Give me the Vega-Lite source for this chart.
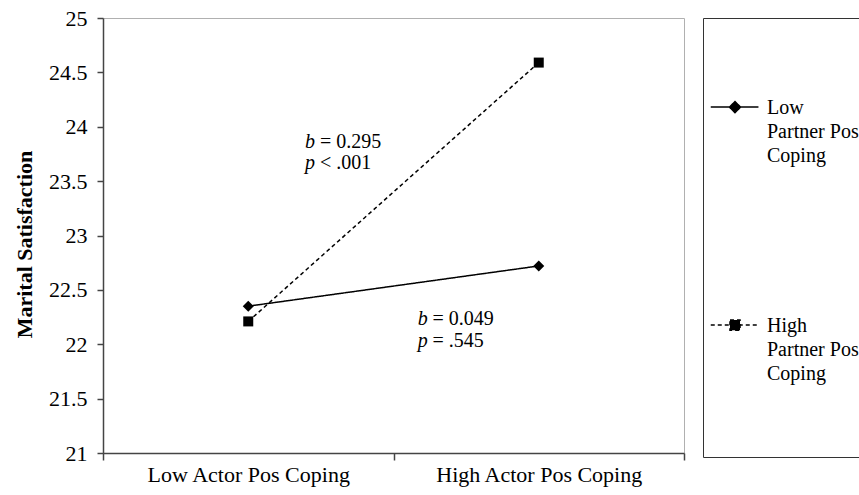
{
  "$schema": "https://vega.github.io/schema/vega-lite/v6.json",
  "width": 581,
  "height": 435,
  "autosize": {"type": "none"},
  "padding": {"left": 103, "top": 18, "right": 175, "bottom": 42},
  "background": "white",
  "config": {
    "view": {"stroke": "#b0b0b0", "strokeWidth": 1},
    "font": "Liberation Serif",
    "style": {"guide-label": {"lineHeight": 24}}
  },
  "layer": [
    {
      "data": {
        "values": [
          {"actor": "Low Actor Pos Coping", "partner": "Low", "sat": 22.35},
          {"actor": "High Actor Pos Coping", "partner": "Low", "sat": 22.72},
          {"actor": "Low Actor Pos Coping", "partner": "High", "sat": 22.21},
          {"actor": "High Actor Pos Coping", "partner": "High", "sat": 24.59}
        ]
      },
      "layer": [
        {
          "mark": {"type": "line", "color": "black", "strokeWidth": 1.5},
          "encoding": {
            "x": {
              "field": "actor", "type": "ordinal",
              "sort": ["Low Actor Pos Coping", "High Actor Pos Coping"],
              "scale": {"type": "band", "paddingInner": 0, "paddingOuter": 0},
              "title": null,
              "axis": {
                "tickBand": "extent", "tickSize": 7, "tickWidth": 1.5, "tickColor": "#444",
                "domainColor": "#444", "domainWidth": 1.5,
                "labelFontSize": 22, "labelColor": "black", "labelPadding": 4, "labelAngle": 0,
                "labelFont": "Liberation Serif", "labelLimit": 400, "grid": false
              }
            },
            "y": {
              "field": "sat", "type": "quantitative",
              "scale": {"domain": [21, 25], "zero": false, "nice": false},
              "axis": {
                "values": [21, 21.5, 22, 22.5, 23, 23.5, 24, 24.5, 25],
                "labelExpr": "'' + datum.value",
                "tickSize": 6, "tickWidth": 1.5, "tickColor": "#444",
                "domainColor": "#444", "domainWidth": 1.5,
                "labelFontSize": 22, "labelColor": "black", "labelPadding": 10,
                "labelFont": "Liberation Serif", "grid": false,
                "title": "Marital Satisfaction", "titleFontSize": 22, "titleFontWeight": "bold",
                "titleColor": "black", "titleFont": "Liberation Serif", "titlePadding": 12,
                "titleY": 226
              }
            },
            "strokeDash": {
              "field": "partner", "type": "nominal",
              "scale": {"domain": ["Low", "High"], "range": [[1, 0], [4, 3]]},
              "legend": {
                "orient": "right", "offset": 19, "padding": 7,
                "strokeColor": "#333",
                "title": " ", "titleOrient": "bottom", "titleFontSize": 4, "titlePadding": 62,
                "symbolType": {"expr": "datum.value == 'Low' ? 'M-1,0.134L-0.335,0.134M-0.662,0.057L-0.585,0.134L-0.662,0.211L-0.739,0.134Z' : 'M-1,0.134L-0.335,0.134M-0.732,0.064L-0.592,0.064L-0.592,0.204L-0.732,0.204Z'"},
                "symbolSize": 20592, "symbolStrokeWidth": 1.5,
                "symbolFillColor": "black", "symbolStrokeColor": "black", "symbolOpacity": 1,
                "labelFont": "Liberation Serif", "labelFontSize": 20, "labelColor": "black",
                "labelBaseline": "top", "labelOffset": -88, "labelLimit": 300,
                "rowPadding": 77,
                "labelExpr": "datum.label == 'Low' ? ['Low', 'Partner Pos', 'Coping'] : ['High', 'Partner Pos', 'Coping']"
              }
            }
          }
        },
        {
          "transform": [{"filter": "datum.partner == 'Low'"}],
          "mark": {"type": "point", "filled": true, "color": "black", "opacity": 1, "shape": "diamond", "size": 121},
          "encoding": {
            "x": {"field": "actor", "type": "ordinal", "sort": ["Low Actor Pos Coping", "High Actor Pos Coping"]},
            "y": {"field": "sat", "type": "quantitative"}
          }
        },
        {
          "transform": [{"filter": "datum.partner == 'High'"}],
          "mark": {"type": "point", "filled": true, "color": "black", "opacity": 1, "shape": "square", "size": 100},
          "encoding": {
            "x": {"field": "actor", "type": "ordinal", "sort": ["Low Actor Pos Coping", "High Actor Pos Coping"]},
            "y": {"field": "sat", "type": "quantitative"}
          }
        }
      ]
    },
    {
      "data": {"values": [
        {"actor": "Low Actor Pos Coping", "sat": 23.863, "t": "b"},
        {"actor": "Low Actor Pos Coping", "sat": 23.667, "t": "p"}
      ]},
      "mark": {"type": "text", "align": "left", "baseline": "middle", "dx": 56.75, "fontSize": 20, "fontStyle": "italic", "font": "Liberation Serif", "color": "black"},
      "encoding": {
        "x": {"field": "actor", "type": "ordinal", "sort": ["Low Actor Pos Coping", "High Actor Pos Coping"]},
        "y": {"field": "sat", "type": "quantitative"},
        "text": {"field": "t"}
      }
    },
    {
      "data": {"values": [
        {"actor": "Low Actor Pos Coping", "sat": 23.863, "t": "= 0.295"},
        {"actor": "Low Actor Pos Coping", "sat": 23.667, "t": "< .001"}
      ]},
      "mark": {"type": "text", "align": "left", "baseline": "middle", "dx": 71.75, "fontSize": 20, "font": "Liberation Serif", "color": "black"},
      "encoding": {
        "x": {"field": "actor", "type": "ordinal", "sort": ["Low Actor Pos Coping", "High Actor Pos Coping"]},
        "y": {"field": "sat", "type": "quantitative"},
        "text": {"field": "t"}
      }
    },
    {
      "data": {"values": [
        {"actor": "Low Actor Pos Coping", "sat": 22.233, "t": "b"},
        {"actor": "Low Actor Pos Coping", "sat": 22.034, "t": "p"}
      ]},
      "mark": {"type": "text", "align": "left", "baseline": "middle", "dx": 169.5, "fontSize": 20, "fontStyle": "italic", "font": "Liberation Serif", "color": "black"},
      "encoding": {
        "x": {"field": "actor", "type": "ordinal", "sort": ["Low Actor Pos Coping", "High Actor Pos Coping"]},
        "y": {"field": "sat", "type": "quantitative"},
        "text": {"field": "t"}
      }
    },
    {
      "data": {"values": [
        {"actor": "Low Actor Pos Coping", "sat": 22.233, "t": "= 0.049"},
        {"actor": "Low Actor Pos Coping", "sat": 22.034, "t": "= .545"}
      ]},
      "mark": {"type": "text", "align": "left", "baseline": "middle", "dx": 184.25, "fontSize": 20, "font": "Liberation Serif", "color": "black"},
      "encoding": {
        "x": {"field": "actor", "type": "ordinal", "sort": ["Low Actor Pos Coping", "High Actor Pos Coping"]},
        "y": {"field": "sat", "type": "quantitative"},
        "text": {"field": "t"}
      }
    }
  ]
}
